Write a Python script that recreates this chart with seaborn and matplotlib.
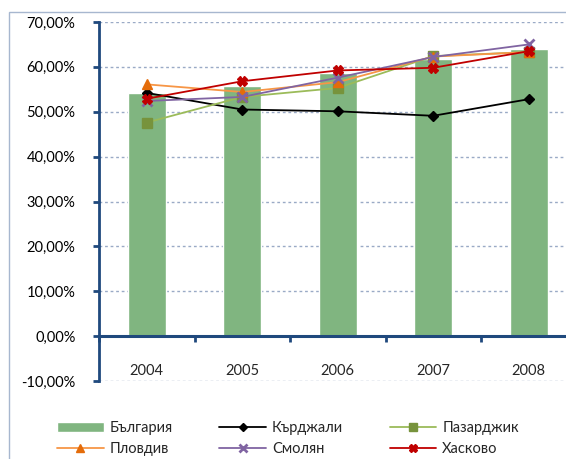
import numpy as np
import pandas as pd
import matplotlib
matplotlib.use('Agg')
import matplotlib.pyplot as plt
from matplotlib.lines import Line2D
from matplotlib.patches import Patch, Rectangle
import seaborn as sns

# Данни
years = ['2004', '2005', '2006', '2007', '2008']
bulgaria = [54.1, 55.7, 58.6, 61.7, 63.9]
kardzhali = [54.2, 50.5, 50.1, 49.1, 52.8]
pazardzhik = [47.6, 53.3, 55.3, 62.4, 63.3]
plovdiv = [56.1, 54.4, 56.6, 62.3, 63.3]
smolyan = [52.4, 53.3, 57.6, 62.2, 65.0]
haskovo = [52.9, 56.8, 59.2, 59.8, 63.5]

sns.set_style('white')
plt.rcParams['font.family'] = ['Lato', 'DejaVu Sans']

fig = plt.figure(figsize=(5.66, 4.59), dpi=100)
ax = fig.add_axes([99 / 566, 78 / 459, 477.5 / 566, 359 / 459])

navy = '#1F497D'
grid_c = '#9AAAC6'

# Рамка на диаграмата
fig.patches.append(Rectangle((9 / 566, -0.1), 1.2, 0.1 + (459 - 12) / 459,
                             transform=fig.transFigure, fill=False,
                             edgecolor='#A7B7CF', linewidth=1))

df = pd.DataFrame({'Година': years, 'България': bulgaria})
sns.barplot(data=df, x='Година', y='България', color='#80B580', width=0.4,
            saturation=1, ax=ax, zorder=2)

series = [
    ('Кърджали', kardzhali, 'black', 'black', 'D', 5, 1.0),
    ('Пазарджик', pazardzhik, '#9BBB59', '#77933C', 's', 7, 1.0),
    ('Пловдив', plovdiv, '#F79646', '#E46C0A', '^', 7, 1.0),
    ('Смолян', smolyan, '#8064A2', '#8064A2', 'x', 6.5, 2.0),
    ('Хасково', haskovo, '#C00000', '#C00000', 'X', 7, 1.0),
]
pos = np.arange(len(years))
handles = {}
for name, vals, lc, mc, mk, ms, mew in series:
    sns.lineplot(x=pos, y=vals, color=lc, linewidth=1.3, marker=mk,
                 markersize=ms, markerfacecolor=mc, markeredgecolor=mc,
                 markeredgewidth=mew, ax=ax, zorder=3)
    handles[name] = Line2D([], [], color=lc, linewidth=1.3, marker=mk,
                           markersize=ms - 1, markerfacecolor=mc,
                           markeredgecolor=mc, markeredgewidth=mew)
handles['България'] = Patch(facecolor='#80B580')

ax.set_xlim(-0.5, 4.5)
ax.set_ylim(-10, 70)
ax.set_yticks(range(-10, 71, 10))
ax.set_yticklabels([f'{v},00%' for v in range(-10, 71, 10)])
ax.set_xlabel('')
ax.set_ylabel('')

for v in range(-10, 71, 10):
    if v != 0:
        ax.axhline(v, color=grid_c, linewidth=1, linestyle=(0, (2, 2)), zorder=1)

for s in ['top', 'right']:
    ax.spines[s].set_visible(False)
ax.spines['left'].set_color(navy)
ax.spines['left'].set_linewidth(2)
ax.spines['bottom'].set_position(('data', 0))
ax.spines['bottom'].set_color(navy)
ax.spines['bottom'].set_linewidth(2.2)
ax.spines['bottom'].set_zorder(4)

ax.tick_params(axis='y', direction='out', length=4, width=2, color=navy,
               pad=13, labelsize=10.5, labelcolor='black', left=True)
ax.set_xticks(np.arange(-0.5, 4.6, 1), minor=True)
ax.tick_params(axis='x', which='minor', direction='out', length=4, width=2,
               color=navy, bottom=True)
ax.tick_params(axis='x', which='major', length=0, pad=20, labelsize=10.5)

order = ['България', 'Пловдив', 'Кърджали', 'Смолян', 'Пазарджик', 'Хасково']
fig.legend([handles[n] for n in order], order, ncol=3, frameon=False,
           loc='upper left', bbox_to_anchor=(44 / 566, 1 - 408 / 459),
           fontsize=10.5, handlelength=3.2, columnspacing=3.2,
           handletextpad=0.4, labelspacing=0.45)

fig.savefig('out.png', dpi=100)
